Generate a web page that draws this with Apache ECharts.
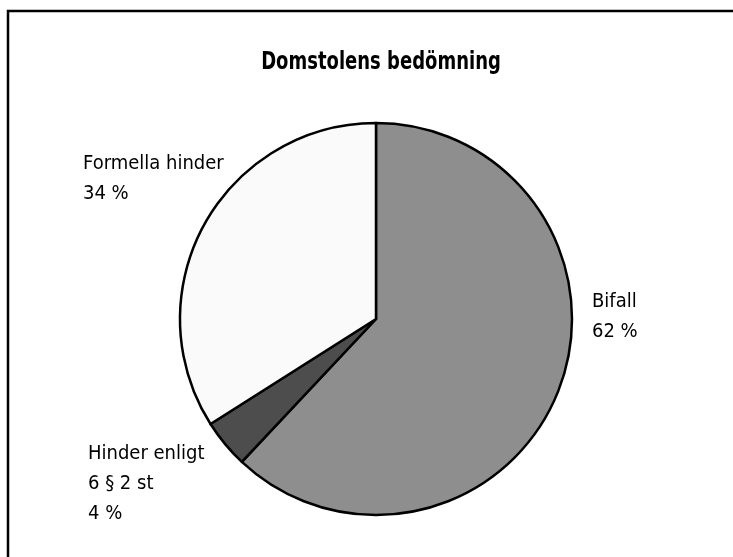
<!DOCTYPE html>
<html>
<head>
<meta charset="utf-8">
<script src="https://cdn.jsdelivr.net/npm/echarts@6/dist/echarts.min.js"></script>
<style>
html,body{margin:0;padding:0;background:#fff;}
#chart{width:733px;height:557px;}
</style>
</head>
<body>
<div id="chart"></div>
<script>
const titleText = 'Domstolens bedömning';
const categories = ['Bifall', 'Hinder enligt\n6 § 2 st', 'Formella hinder'];
const values = [62, 4, 34];
const sliceColors = ['#8e8e8e', '#4d4d4d', '#fafafa'];

const FONT = '"Liberation Sans Narrow", "DejaVu Sans Condensed", sans-serif';
const labelPos = [
  {x: 592, y: 287},
  {x: 88, y: 439},
  {x: 83, y: 149}
];

const chart = echarts.init(document.getElementById('chart'), null, {renderer: 'canvas'});
chart.setOption({
  backgroundColor: '#fff',
  animation: false,
  graphic: [{
    type: 'rect',
    shape: {x: 8, y: 11, width: 760, height: 600},
    style: {fill: 'none', stroke: '#000', lineWidth: 2.5},
    silent: true
  }, {
    type: 'text',
    x: 381,
    y: 62,
    scaleX: 0.8,
    style: {
      text: titleText,
      textAlign: 'center',
      textVerticalAlign: 'middle',
      fontFamily: FONT,
      fontWeight: 'bold',
      fontSize: 25,
      fill: '#000'
    },
    silent: true
  }],
  series: [{
    type: 'pie',
    center: [376, 319],
    radius: 196,
    startAngle: 90,
    clockwise: true,
    avoidLabelOverlap: false,
    data: categories.map((c, i) => ({name: c, value: values[i], itemStyle: {color: sliceColors[i]}})),
    itemStyle: {borderColor: '#000', borderWidth: 2.5},
    label: {
      show: true,
      position: 'outside',
      formatter: p => p.name + '\n' + p.value + ' %',
      fontFamily: FONT,
      fontSize: 20,
      lineHeight: 30,
      color: '#000'
    },
    labelLine: {show: false},
    labelLayout: function (params) {
      const p = labelPos[params.dataIndex];
      return {x: p.x, y: p.y, align: 'left', verticalAlign: 'top'};
    },
    emphasis: {disabled: true}
  }]
});
</script>
</body>
</html>
